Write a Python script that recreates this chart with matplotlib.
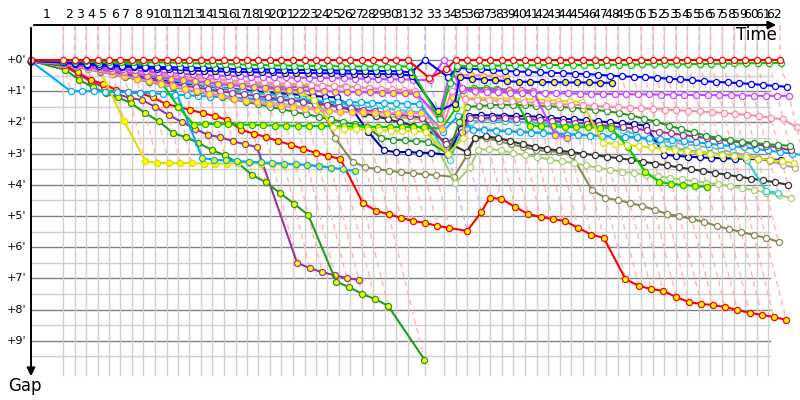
"""Race gap chart: gap to the leader (minutes) against race time, one line per car."""
import numpy as np
import matplotlib
matplotlib.use("Agg")
import matplotlib.pyplot as plt

# leader lap times in minutes (lap 1 .. lap 62)
lap_times = [4.16,
             1.49, 1.49, 1.50, 1.49, 1.49, 1.50, 1.49, 1.49, 1.50, 1.49,
             1.49, 1.50, 1.49, 1.49, 1.50, 1.49, 1.49, 1.50, 1.49, 1.49,
             1.50, 1.49, 1.49, 1.50, 1.49, 1.49, 1.50, 1.49, 1.49, 1.49,
             2.21, 2.47,
             1.50, 1.51, 1.50, 1.51, 1.50, 1.51, 1.50, 1.51, 1.50, 1.51,
             1.50, 1.51, 1.50, 1.51, 1.50, 1.51, 1.50, 1.51, 1.50, 1.51,
             1.50, 1.51, 1.50, 1.51, 1.50, 1.51, 1.50, 1.51, 1.50]
# which car led each lap (index 0 = lap 1)
lap_leader = ["red"] * 31 + ["blue", "violet"] + ["red"] * 29

# gap to leader in minutes, index = lap number (0 = start)
red_w = [0.0] * 32 + [0.58, 0.30] + [0.0] * 29
lime_w = [0.01, 0.02, 0.03, 0.04, 0.05, 0.06, 0.06, 0.07, 0.07, 0.08, 0.08, 0.09, 0.10, 0.11, 0.12, 0.13,
          0.14, 0.15, 0.16, 0.17, 0.18, 0.18, 0.19, 0.19, 0.20, 0.20, 0.20, 0.21, 0.21, 0.21, 0.21, 0.20,
          1.90, 0.75, 0.20, 0.19, 0.19, 0.18, 0.18, 0.17, 0.17, 0.17, 0.16, 0.16, 0.16, 0.16, 0.15, 0.15,
          0.15, 0.15, 0.14, 0.14, 0.14, 0.14, 0.13, 0.13, 0.12, 0.12, 0.11, 0.11, 0.10, 0.10, 0.09]
blue_w = [0.02, 0.06, 0.10, 0.12, 0.14, 0.16, 0.18, 0.20, 0.21, 0.22, 0.23, 0.24, 0.25, 0.26, 0.27, 0.28,
          0.29, 0.30, 0.30, 0.31, 0.31, 0.32, 0.32, 0.33, 0.33, 0.34, 0.34, 0.35, 0.35, 0.36, 0.36, 0.40,
          0.00, 0.55, 0.25, 0.28, 0.30, 0.33, 0.35, 0.37, 0.38, 0.40, 0.41, 0.42, 0.44, 0.45, 0.47, 0.50,
          0.52, 0.54, 0.55, 0.57, 0.60, 0.62, 0.65, 0.68, 0.70, 0.72, 0.74, 0.77, 0.80, 0.83, 0.86]
blue_y = [0.03, 0.08, 0.12, 0.15, 0.18, 0.20, 0.22, 0.24, 0.26, 0.28, 0.30, 0.32, 0.34, 0.35, 0.36, 0.37,
          0.38, 0.39, 0.40, 0.40, 0.41, 0.41, 0.42, 0.42, 0.43, 0.43, 0.44, 0.44, 0.45, 0.45, 0.46, 0.50,
          1.65, 1.40, 0.55, 0.60, 0.63, 0.65, 0.68, 0.70, 0.70, 0.71, 0.71, 0.72, 0.72, 0.72, 0.73, 0.73]
violet_w = [0.02, 0.08, 0.14, 0.18, 0.22, 0.26, 0.30, 0.33, 0.36, 0.39, 0.42, 0.44, 0.46, 0.48, 0.50, 0.51,
            0.52, 0.53, 0.54, 0.55, 0.56, 0.57, 0.57, 0.58, 0.58, 0.59, 0.60, 0.60, 0.61, 0.62, 0.62, 0.63,
            0.65, 0.00, 0.90, 1.00, 1.03, 1.04, 1.05, 1.05, 1.06, 1.06, 1.07, 1.07, 1.08, 1.08, 1.09, 1.09,
            1.10, 1.10, 1.10, 1.11, 1.11, 1.12, 1.12, 1.12, 1.13, 1.13, 1.14, 1.14, 1.15, 1.15, 1.15]
violet_y = [0.03, 0.10, 0.16, 0.22, 0.28, 0.34, 0.40, 0.45, 0.50, 0.55, 0.60, 0.64, 0.68, 0.72, 0.76, 0.80,
            0.83, 0.86, 0.89, 0.92, 0.95, 0.97, 0.99, 1.00, 1.01, 1.02, 1.03, 1.04, 1.05, 1.06, 1.07, 1.08,
            1.80, 0.60, 0.95, 0.95, 0.96, 0.96, 0.97, 0.97, 0.98, 2.40, 2.50]
pink_w = [0.04, 0.10, 0.15, 0.20, 0.25, 0.30, 0.34, 0.38, 0.42, 0.46, 0.50, 0.53, 0.56, 0.59, 0.62, 0.65,
          0.68, 0.70, 0.72, 0.74, 0.76, 0.78, 0.80, 0.82, 0.84, 0.86, 0.88, 0.90, 0.92, 0.94, 0.96, 0.98,
          2.00, 1.00, 1.25, 1.27, 1.29, 1.31, 1.33, 1.35, 1.37, 1.39, 1.41, 1.43, 1.45, 1.47, 1.49, 1.51,
          1.53, 1.55, 1.57, 1.59, 1.61, 1.63, 1.65, 1.67, 1.70, 1.73, 1.76, 1.80, 1.85, 1.90, 2.15]
pink_y = [0.05, 0.12, 0.20, 0.28, 0.36, 0.44, 0.52, 0.60, 0.68, 0.76, 0.84, 0.92, 1.00, 1.08, 1.16, 1.24,
          1.30, 1.36, 1.42, 1.48, 1.52, 1.56, 1.60, 1.64, 1.67, 1.68, 1.68, 1.69, 1.69, 1.70, 1.70, 1.71,
          2.20, 1.20, 0.48, 0.48, 0.50, 0.52, 0.53]
red_y = [0.05, 0.15, 0.40, 0.64, 0.77, 0.96, 1.03, 1.06, 1.20, 1.41, 1.50, 1.60, 1.70, 1.80, 1.92, 2.24,
         2.36, 2.47, 2.60, 2.72, 2.85, 2.98, 3.08, 3.17, 4.58, 4.84, 4.94, 5.06, 5.16, 5.22, 5.32, 5.38,
         5.48, 4.87, 4.42, 4.45, 4.71, 4.94, 5.03, 5.10, 5.16, 5.38, 5.60, 5.70, 7.02, 7.24, 7.34, 7.40,
         7.60, 7.76, 7.82, 7.85, 7.92, 8.01, 8.10, 8.17, 8.24, 8.33]
dkgreen_y = [0.03, 0.32, 0.64, 0.87, 1.06, 1.20, 1.38, 1.70, 1.96, 2.34, 2.47, 2.66, 2.88, 3.05, 3.30, 3.69,
             3.91, 4.26, 4.60, 4.97, 7.10, 7.28, 7.50, 7.66, 7.88, np.nan, 9.60]
yellow_y = [0.02, 0.05, 0.10, 0.20, 0.32, 1.96, 3.24, 3.30, 3.30, 3.30, 3.30, 3.32, 3.32, 3.32, 3.30, 3.30,
            3.33, 3.33, 3.35, 3.35, 3.37, 3.40, 3.45]
ltblue_y = [0.03, 0.10, 0.15, 0.20, 0.25, 0.30, 0.35, 0.40, 0.45, 0.50, 0.64, 3.14, 3.20, 3.22, 3.24, 3.26,
            3.28, 3.30, 3.32, 3.34, 3.36, 3.40, 3.45, 3.50, 3.56]
ltblue_w = [0.05, 1.00, 1.00, 1.00, 1.01, 1.02, 1.03, 1.05, 1.07, 1.09, 1.11, 1.13, 1.15, 1.17, 1.19, 1.21,
            1.23, 1.25, 1.27, 1.29, 1.30, 1.31, 1.32, 1.33, 1.34, 1.35, 1.36, 1.37, 1.38, 1.39, 1.40, 1.41,
            2.30, 1.80, 2.25, 2.25, 2.27, 2.29, 2.31, 2.33, 2.35, 2.37, 2.39, 2.40, 2.42, 2.44, 2.45, 2.46,
            2.48, 2.50, 2.53, 2.56, 2.60, 2.64, 2.68, 2.72, 2.76, 2.80, 2.85, 2.90, 2.95, 3.00, 3.05]
cyan_w = [0.04, 0.10, 0.16, 0.22, 0.28, 0.34, 0.40, 0.46, 0.52, 0.58, 0.64, 0.70, 0.76, 0.82, 0.88, 0.94,
          1.00, 1.05, 1.10, 1.15, 1.20, 1.25, 1.30, 1.35, 1.40, 1.44, 1.48, 1.52, 1.56, 1.60, 1.64, 1.68,
          3.20, 2.30, 2.00, 1.90, 1.92, 1.95, 1.98, 2.00, 2.02, 2.05, 2.08, 2.10, 2.12, 2.15, 2.18, 2.24,
          2.40, 2.63, 2.72, 2.82, 2.88, 2.94, 2.98, 3.02, 3.06, 3.20, 4.20, 4.26]
olive_w = [0.04, 0.10, 0.16, 0.22, 0.28, 0.34, 0.40, 0.45, 0.50, 0.55, 0.60, 0.64, 0.68, 0.72, 0.76, 0.80,
           0.82, 0.84, 0.85, 0.86, 0.86, 0.87, 0.87, 2.50, 3.27, 3.43, 3.50, 3.55, 3.60, 3.63, 3.66, 3.69,
           3.75, 3.04, 2.50, 2.50, 2.60, 2.70, 2.79, 2.88, 2.92, 2.95, 3.04, 4.17, 4.42, 4.49, 4.58, 4.68,
           4.80, 4.94, 5.00, 5.10, 5.19, 5.32, 5.42, 5.51, 5.61, 5.70, 5.83]
ltgreen_w = [0.05, 0.12, 0.20, 0.28, 0.36, 0.44, 0.52, 0.60, 0.68, 0.76, 0.84, 0.92, 1.00, 1.06, 1.12, 1.18,
             1.24, 1.30, 1.35, 1.40, 1.45, 1.50, 1.55, 1.60, 1.64, 1.68, 1.72, 1.76, 1.80, 1.84, 1.88, 1.92,
             3.94, 3.43, 2.88, 2.85, 2.90, 2.98, 3.05, 3.10, 3.20, 3.25, 3.30, 3.38, 3.45, 3.52, 3.58, 3.63,
             3.68, 3.73, 3.78, 3.83, 3.88, 3.93, 3.98, 4.04, 4.10, 4.17, 4.25, 4.33, 4.42]
black_w = [0.04, 0.10, 0.17, 0.24, 0.30, 0.36, 0.42, 0.48, 0.54, 0.60, 0.66, 0.72, 0.78, 0.84, 0.90, 0.95,
           1.00, 1.05, 1.10, 1.15, 1.20, 1.25, 1.32, 1.40, 1.50, 1.60, 1.70, 1.80, 1.90, 2.00, 2.10, 2.20,
           2.60, 2.95, 2.50, 2.45, 2.50, 2.60, 2.70, 2.78, 2.85, 2.90, 2.95, 3.00, 3.05, 3.10, 3.15, 3.20,
           3.26, 3.32, 3.38, 3.44, 3.50, 3.56, 3.62, 3.68, 3.74, 3.80, 3.86, 3.92, 4.00]
navy_w = [0.04, 0.11, 0.18, 0.25, 0.32, 0.38, 0.44, 0.50, 0.56, 0.62, 0.68, 0.73, 0.78, 0.83, 0.88, 0.92,
          0.96, 1.00, 1.03, 1.06, 1.09, 1.12, 1.15, 1.18, 1.20, 1.50, 2.30, 2.90, 2.95, 2.95, 2.97, 2.98,
          3.04, 2.20, 1.78, 1.76, 1.78, 1.78, 1.80, 1.80, 1.82, 1.85, 1.88, 1.90, 1.93, 1.96, 2.00, 2.03,
          2.06, 2.10, 3.04, 3.07, 3.10, 3.12, 3.14, 3.15, 3.16, 3.17, 3.18, 3.19, 3.20]
grey_w = [0.03, 0.09, 0.15, 0.21, 0.27, 0.33, 0.38, 0.43, 0.48, 0.53, 0.58, 0.62, 0.66, 0.70, 0.72, 0.74,
          0.75, 0.76, 0.77, 0.78, 0.79, 0.80, 0.81, 0.82, 0.83, 0.84, 0.86, 0.90, 0.95, 1.00, 1.05, 1.10,
          2.95, 2.40, 2.20, 2.22, 2.24, 2.26, 2.28, 2.30, 2.32, 2.34, 2.36, 2.38, 2.40, 2.42, 2.44, 2.46,
          2.50, 2.55, 2.60, 2.65, 2.70, 2.75, 2.80, 2.88, 2.96, 3.05, 3.15, 3.25, 3.35, 3.46]
dkgreen_w = [0.05, 0.14, 0.22, 0.30, 0.38, 0.46, 0.54, 0.62, 0.70, 0.78, 0.86, 0.94, 1.02, 1.10, 1.18, 1.26,
             1.34, 1.42, 1.50, 1.58, 1.66, 1.74, 1.82, 1.90, 1.98, 2.06, 2.14, 2.50, 2.55, 2.58, 2.60, 2.62,
             3.00, 2.00, 1.50, 1.48, 1.45, 1.44, 1.44, 1.45, 1.46, 1.48, 1.50, 1.53, 1.56, 1.60, 1.64, 1.70,
             1.78, 1.88, 1.98, 2.10, 2.22, 2.32, 2.42, 2.50, 2.57, 2.62, 2.66, 2.70, 2.72, 2.75]
purple_y = [0.05, 0.20, 0.45, 0.70, 0.87, 1.09, 1.22, 1.28, 1.50, 1.76, 1.99, 2.20, 2.40, 2.47, 2.60, 2.70,
            2.79, 6.50, 6.67, 6.80, 6.90, 6.99, 7.05]
purple_w = [0.04, 0.12, 0.20, 0.27, 0.34, 0.41, 0.48, 0.55, 0.62, 0.69, 0.76, 0.82, 0.88, 0.94, 1.00, 1.05,
            1.10, 1.15, 1.20, 1.25, 1.30, 1.35, 1.40, 1.45, 1.50, 1.55, 1.60, 1.65, 1.70, 1.75, 1.80, 1.85,
            2.70, 2.30, 1.85, 1.85, 1.86, 1.87, 1.88, 1.90, 1.92, 1.95, 1.98, 2.01, 2.04, 2.08, 2.12, 2.16,
            2.20, 2.25, 2.30, 2.35, 2.40, 2.45, 2.50, 2.55, 2.60, 2.65, 2.70, 2.75, 2.80, 2.90]
lime_y = [0.03, 0.05, 0.07, 0.09, 0.10, 0.11, 0.12, 0.13, 0.14, 0.64, 1.50, 2.08, 2.05, 2.05, 2.06, 2.07,
          2.08, 2.09, 2.10, 2.10, 2.11, 2.11, 2.12, 2.12, 2.13, 2.13, 2.14, 2.14, 2.15, 2.15, 2.15, 2.15,
          2.20, 1.55, 0.90, 0.90, 0.90, 0.92, 0.95, 2.10, 2.12, 2.13, 2.14, 2.15, 2.16, 2.17, 2.18, 2.79,
          3.59, 3.91, 3.97, 4.00, 4.04, 4.07]
yellow_w = [0.03, 0.08, 0.13, 0.18, 0.23, 0.28, 0.33, 0.38, 0.43, 0.48, 0.53, 0.58, 0.63, 0.68, 0.73, 0.78,
            0.83, 0.88, 0.92, 0.96, 1.00, 1.04, 1.28, 2.15, 2.20, 2.22, 2.24, 2.25, 2.26, 2.27, 2.28, 2.30,
            3.00, 2.50, 1.23, 1.22, 1.22, 1.23, 1.24, 1.25, 1.26, 1.28, 1.30, 1.32, 1.35, 2.66, 2.69, 2.72,
            2.76, 2.80, 2.84, 2.88, 2.92, 2.96, 3.00, 3.04, 3.08, 3.12, 3.16, 3.20, 3.25, 3.30]

# (gaps, line colour, marker face)
cars = [
    (purple_y, "#993399", "#ffff00"),
    (dkgreen_y, "#229922", "#ffff00"),
    (red_y, "#ff0000", "#ffff00"),
    (yellow_y, "#dddd00", "#ffff00"),
    (ltblue_y, "#00aaff", "#ffff00"),
    (olive_w, "#888855", "white"),
    (ltgreen_w, "#aacc77", "white"),
    (black_w, "#333333", "white"),
    (grey_w, "#aaaaaa", "white"),
    (navy_w, "#0000aa", "white"),
    (cyan_w, "#33cccc", "white"),
    (ltblue_w, "#00aaff", "white"),
    (purple_w, "#993399", "white"),
    (dkgreen_w, "#229922", "white"),
    (lime_y, "#00cc00", "#ffff00"),
    (yellow_w, "#dddd00", "white"),
    (pink_y, "#ff88aa", "#ffff00"),
    (pink_w, "#ff88aa", "white"),
    (violet_y, "#cc44ff", "#ffff00"),
    (violet_w, "#cc44ff", "white"),
    (blue_y, "#0000ff", "#ffff00"),
    (blue_w, "#0000ff", "white"),
    (lime_w, "#00cc00", "white"),
    (red_w, "#ff0000", "white"),
]
dash_colours = {"red": "#ffb4b4", "blue": "#b4b4ff", "violet": "#e6b4ff"}

# pixel layout of the original: 7.7 px per minute across, 31.2 px per minute down
X0, SX = 31, 7.7
Y0, SY = 60, 31.2


def tx(px):
    return (px - X0) / SX


def gy(py):
    return (py - Y0) / SY


T = np.concatenate([[0.0], np.cumsum(lap_times)])

fig = plt.figure(figsize=(8, 4), dpi=100)
ax = fig.add_axes([0, 0, 1, 1])
ax.set_xlim(tx(0), tx(800))
ax.set_ylim(gy(400), gy(0))
ax.axis("off")

top, bottom, right = gy(25), gy(375), tx(770)

# grid
for g in np.arange(0.5, 10.0, 0.5):
    major = float(g).is_integer()
    ax.plot([0, right], [g, g], color="#808080" if major else "#cfcfcf",
            lw=1.0, zorder=1)
ax.plot([0, right], [0, 0], color="#808080", lw=1.0, zorder=1)
for t in T[1:-1]:
    ax.plot([t, t], [top, bottom], color="#cfcfcf", lw=1.0, zorder=1)

# lap lines: cars crossing the line on the same lap
for lap in range(1, len(T)):
    gaps = [c[0][lap] for c in cars if len(c[0]) > lap and not np.isnan(c[0][lap])]
    gmax = max(gaps)
    col = dash_colours[lap_leader[lap - 1]]
    ax.plot([T[lap], T[lap], T[lap] + gmax], [top, 0, gmax], color=col, lw=1.0,
            ls=(0, (4, 3)), zorder=2)

# cars
for gaps, col, face in cars:
    g = np.asarray(gaps, dtype=float)
    laps = np.arange(len(g))
    ok = ~np.isnan(g)
    x = T[laps[ok]] + g[ok]
    ax.plot(x, g[ok], color=col, lw=1.5, marker="o", ms=4.4, mfc=face,
            mec=col, mew=0.9, zorder=3)

# axes arrows
ax.annotate("", xy=(0, gy(379)), xytext=(0, top),
            arrowprops=dict(arrowstyle="-|>", color="black", lw=1.4, mutation_scale=12),
            zorder=5)
ax.annotate("", xy=(tx(779), top), xytext=(0, top),
            arrowprops=dict(arrowstyle="-|>", color="black", lw=1.4, mutation_scale=12),
            zorder=5)
ax.text(tx(777), gy(35), "Time", ha="right", va="center", fontsize=12)
ax.text(tx(25), gy(386), "Gap", ha="center", va="center", fontsize=12)

for m in range(10):
    ax.text(tx(17), m, f"+{m}'", ha="center", va="center", fontsize=8)
for lap in range(1, len(T)):
    ax.text((T[lap - 1] + T[lap]) / 2, gy(15), str(lap), ha="center", va="center",
            fontsize=9)

fig.savefig("out.png", dpi=100)
